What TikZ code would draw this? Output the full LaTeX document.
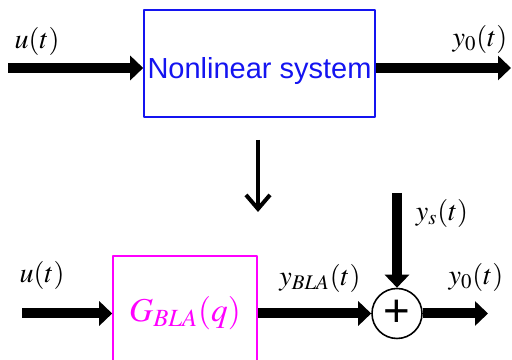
\documentclass[tikz,border=0pt]{standalone}
\usepackage{mathptmx}
\usepackage{fontspec}
\newfontfamily\sysfont{Liberation Sans}
\usetikzlibrary{arrows.meta}
\definecolor{sysblue}{RGB}{20,20,240}
\definecolor{blapink}{RGB}{255,0,255}
\tikzset{
  bigarrow/.style={line width=0.2cm,-{Triangle[length=0.26cm,width=0.48cm]}},
  blockbox/.style={draw,line width=0.9pt,inner sep=0pt}
}
\begin{document}
\begin{tikzpicture}[>=stealth,line join=round,font=\fontsize{16}{18}\selectfont]
\useasboundingbox (0,0) rectangle (10.24,7.2);
\path
(0.16,5.84) coordinate (U1)
(10.22,5.84) coordinate (Y1)
(0.44,0.93) coordinate (U2)
(9.76,0.93) coordinate (Y2)
(7.94,3.34) coordinate (S)
(5.16,4.40) coordinate (T)
(5.16,2.96) coordinate (B);
\node[blockbox,draw=sysblue,minimum width=4.62cm,minimum height=2.14cm] (NL) at (5.19,5.93) {};
\node[text=sysblue,inner sep=0pt] (NLtext) at ([yshift=-0.16cm]NL.center)
  {\sysfont\fontsize{16.5}{18}\selectfont Nonlinear system};
\node[blockbox,draw=blapink,text=blapink,minimum width=2.88cm,minimum height=2.3cm] (G) at (3.70,0.93)
  {\fontsize{19}{20}\selectfont$G_{BLA}(q)$};
\node[circle,draw,line width=0.9pt,minimum size=1cm,inner sep=0pt] (P) at (7.94,0.93)
  {\sysfont\fontsize{26}{26}\selectfont +};
\draw[bigarrow] (U1) -- (NL.west |- U1);
\draw[bigarrow] (NL.east |- U1) -- (Y1);
\draw[bigarrow] (U2) -- (G.west);
\draw[bigarrow] (G.east) -- (P.west);
\draw[bigarrow] (P.east) -- (Y2);
\draw[bigarrow] (S) -- (P.north);
\draw[line width=0.08cm,-{Straight Barb[length=0.28cm,width=0.48cm]}] (T) -- (B);
\foreach \n/\x/\y/\t in {lu1/0.74/6.38/u(t), ly1/9.60/6.42/y_0(t), lu2/0.84/1.70/u(t),
  lyb/6.40/1.64/y_{BLA}(t), lys/8.84/2.94/y_s(t), ly2/9.52/1.66/y_0(t)}
  \node (\n) at (\x,\y) {$\t$};
\end{tikzpicture}
\end{document}
